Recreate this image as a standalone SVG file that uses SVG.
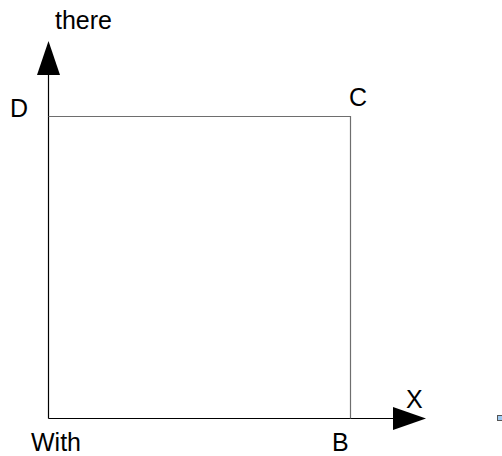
<svg xmlns="http://www.w3.org/2000/svg" width="502" height="456" viewBox="0 0 502 456">
<style>
.t{font-family:"Liberation Sans",Arial,sans-serif;font-size:25px;fill:#000}
.ax{stroke:#000;stroke-width:1.2;fill:none}
.sq{stroke:#6e6e6e;stroke-width:1.2;fill:none}
</style>
<rect width="502" height="456" fill="#fff"/>
<g id="connectors">
<line class="ax" x1="48.5" y1="418.5" x2="48.5" y2="74"/>
<polygon points="48.5,41 37,75 60,75" fill="#000"/>
<line class="ax" x1="48.5" y1="418.5" x2="393" y2="418.5"/>
<polygon points="426,418.5 393,407 393,430" fill="#000"/>
</g>
<g id="square">
<polyline class="sq" points="48.5,116.5 350.5,116.5 350.5,418.5"/>
</g>
<g id="labels">
<text class="t" x="55" y="29">there</text>
<text class="t" x="10" y="117">D</text>
<text class="t" x="349" y="106">C</text>
<text class="t" x="406" y="408">X</text>
<text class="t" x="31" y="451">With</text>
<text class="t" x="332" y="451">B</text>
</g>
<g id="handle">
<rect x="497.5" y="415.5" width="5" height="5" fill="#9ec9f0" stroke="#555" stroke-width="1"/>
</g>
</svg>
